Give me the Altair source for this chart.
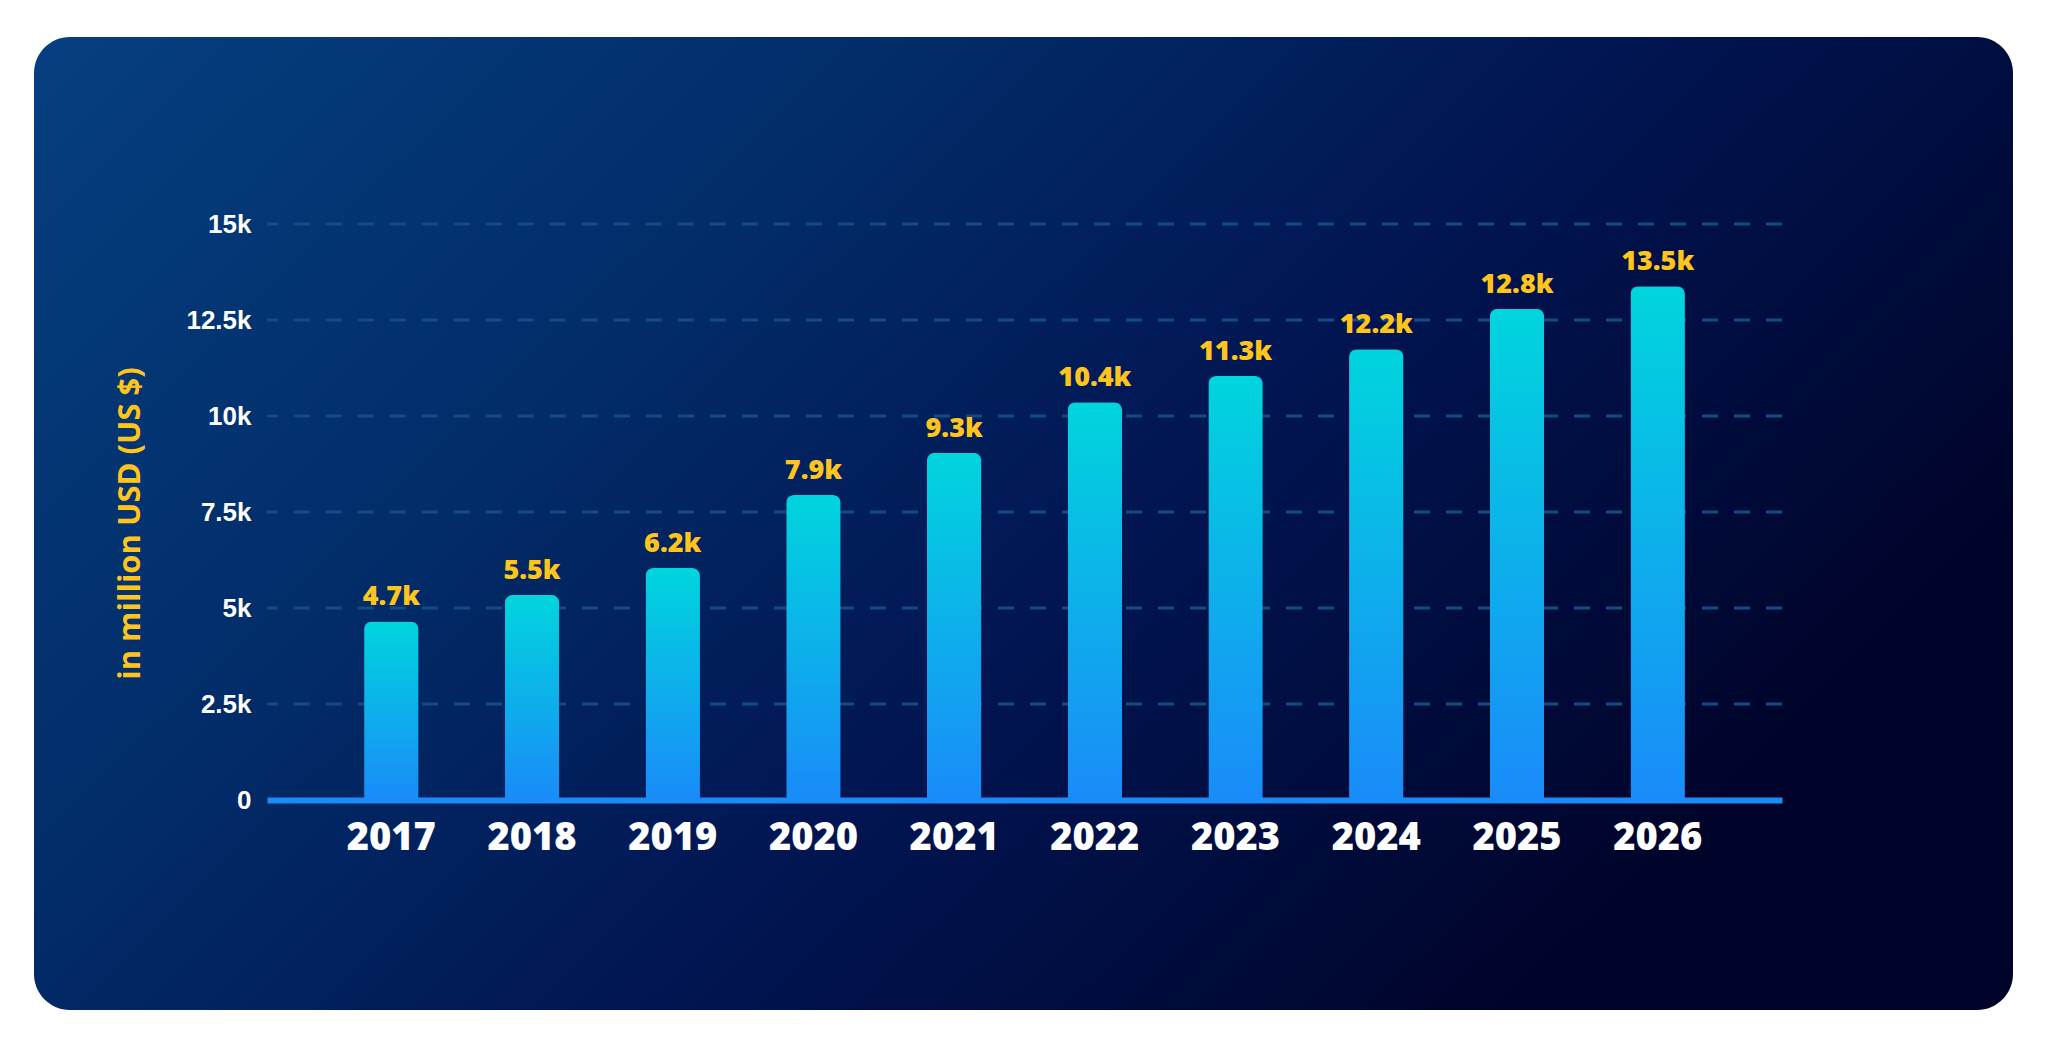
import altair as alt
import pandas as pd

years = ["2017", "2018", "2019", "2020", "2021", "2022", "2023", "2024", "2025", "2026"]
values = [4650, 5340, 6040, 7940, 9040, 10360, 11040, 11740, 12790, 13380]
labels = ["4.7k", "5.5k", "6.2k", "7.9k", "9.3k", "10.4k", "11.3k", "12.2k", "12.8k", "13.5k"]
y_ticks = [0, 2500, 5000, 7500, 10000, 12500, 15000]
y_title = "in million USD (US $)"

df = pd.DataFrame({"year": years, "value": values, "label": labels})
grid_df = pd.DataFrame({"tick": y_ticks[1:]})

W, H = 1515, 576
YELLOW = "#FFC51C"

y_scale = alt.Scale(domain=[0, 15000], nice=False)

x_enc = alt.X(
    "year:O",
    sort=years,
    scale=alt.Scale(paddingInner=0.613, paddingOuter=0.69),
    axis=alt.Axis(
        title=None,
        labelAngle=0,
        labelFont="Open Sans",
        labelFontWeight=800,
        labelFontSize=38,
        labelColor="white",
        labelPadding=19,
        ticks=False,
        domain=True,
        domainColor="#1a8cf7",
        domainWidth=6,
        grid=False,
        zindex=2,
    ),
)

y_enc = alt.Y(
    "value:Q",
    scale=y_scale,
    axis=alt.Axis(
        values=y_ticks,
        labelExpr="datum.value == 0 ? '0' : (datum.value / 1000) + 'k'",
        labelFont="Liberation Sans",
        labelFontWeight="bold",
        labelFontSize=26,
        labelColor="white",
        labelPadding=16,
        ticks=False,
        domain=False,
        grid=False,
        title=y_title,
        titleFont="Open Sans",
        titleFontWeight="bold",
        titleFontSize=31,
        titleColor=YELLOW,
        titleX=-137,
        titleY=299,
        titleAlign="center",
        titleBaseline="middle",
        titleAngle=-90,
        zindex=2,
    ),
)

card = alt.Chart(pd.DataFrame({"a": [0]})).mark_rect(
    cornerRadius=36,
    color=alt.Gradient(
        gradient="linear",
        x1=0, y1=0, x2=1, y2=0.5,
        stops=[
            alt.GradientStop(offset=0, color="#063f80"),
            alt.GradientStop(offset=0.35, color="#022d69"),
            alt.GradientStop(offset=0.65, color="#011552"),
            alt.GradientStop(offset=1, color="#00042a"),
        ],
    ),
).encode(
    x=alt.value(-233), x2=alt.value(1746), y=alt.value(-187), y2=alt.value(786)
)

grid = alt.Chart(grid_df).mark_rule(
    color="#134c85", strokeWidth=3, strokeDash=[16, 16]
).encode(y=alt.Y("tick:Q", scale=y_scale))

bars = alt.Chart(df).mark_bar(
    cornerRadiusTopLeft=8,
    cornerRadiusTopRight=8,
    color=alt.Gradient(
        gradient="linear",
        x1=0, y1=0, x2=0, y2=1,
        stops=[
            alt.GradientStop(offset=0, color="#00d5dd"),
            alt.GradientStop(offset=1, color="#1a8bf9"),
        ],
    ),
).encode(x=x_enc, y=y_enc)

texts = alt.Chart(df).mark_text(
    font="Open Sans",
    fontWeight=800,
    fontSize=27,
    color=YELLOW,
    baseline="bottom",
    dy=-10,
).encode(x=alt.X("year:O", sort=years), y=alt.Y("value:Q"), text="label:N")

chart = (
    alt.layer(card, grid, bars, texts)
    .properties(
        width=W,
        height=H,
        autosize=alt.AutoSizeParams(type="none"),
        padding={"left": 259, "top": 216, "right": 258, "bottom": 220},
        background="white",
    )
    .configure_view(stroke=None)
)

chart.save("out.html", embed_options={"renderer": "svg", "actions": False})
